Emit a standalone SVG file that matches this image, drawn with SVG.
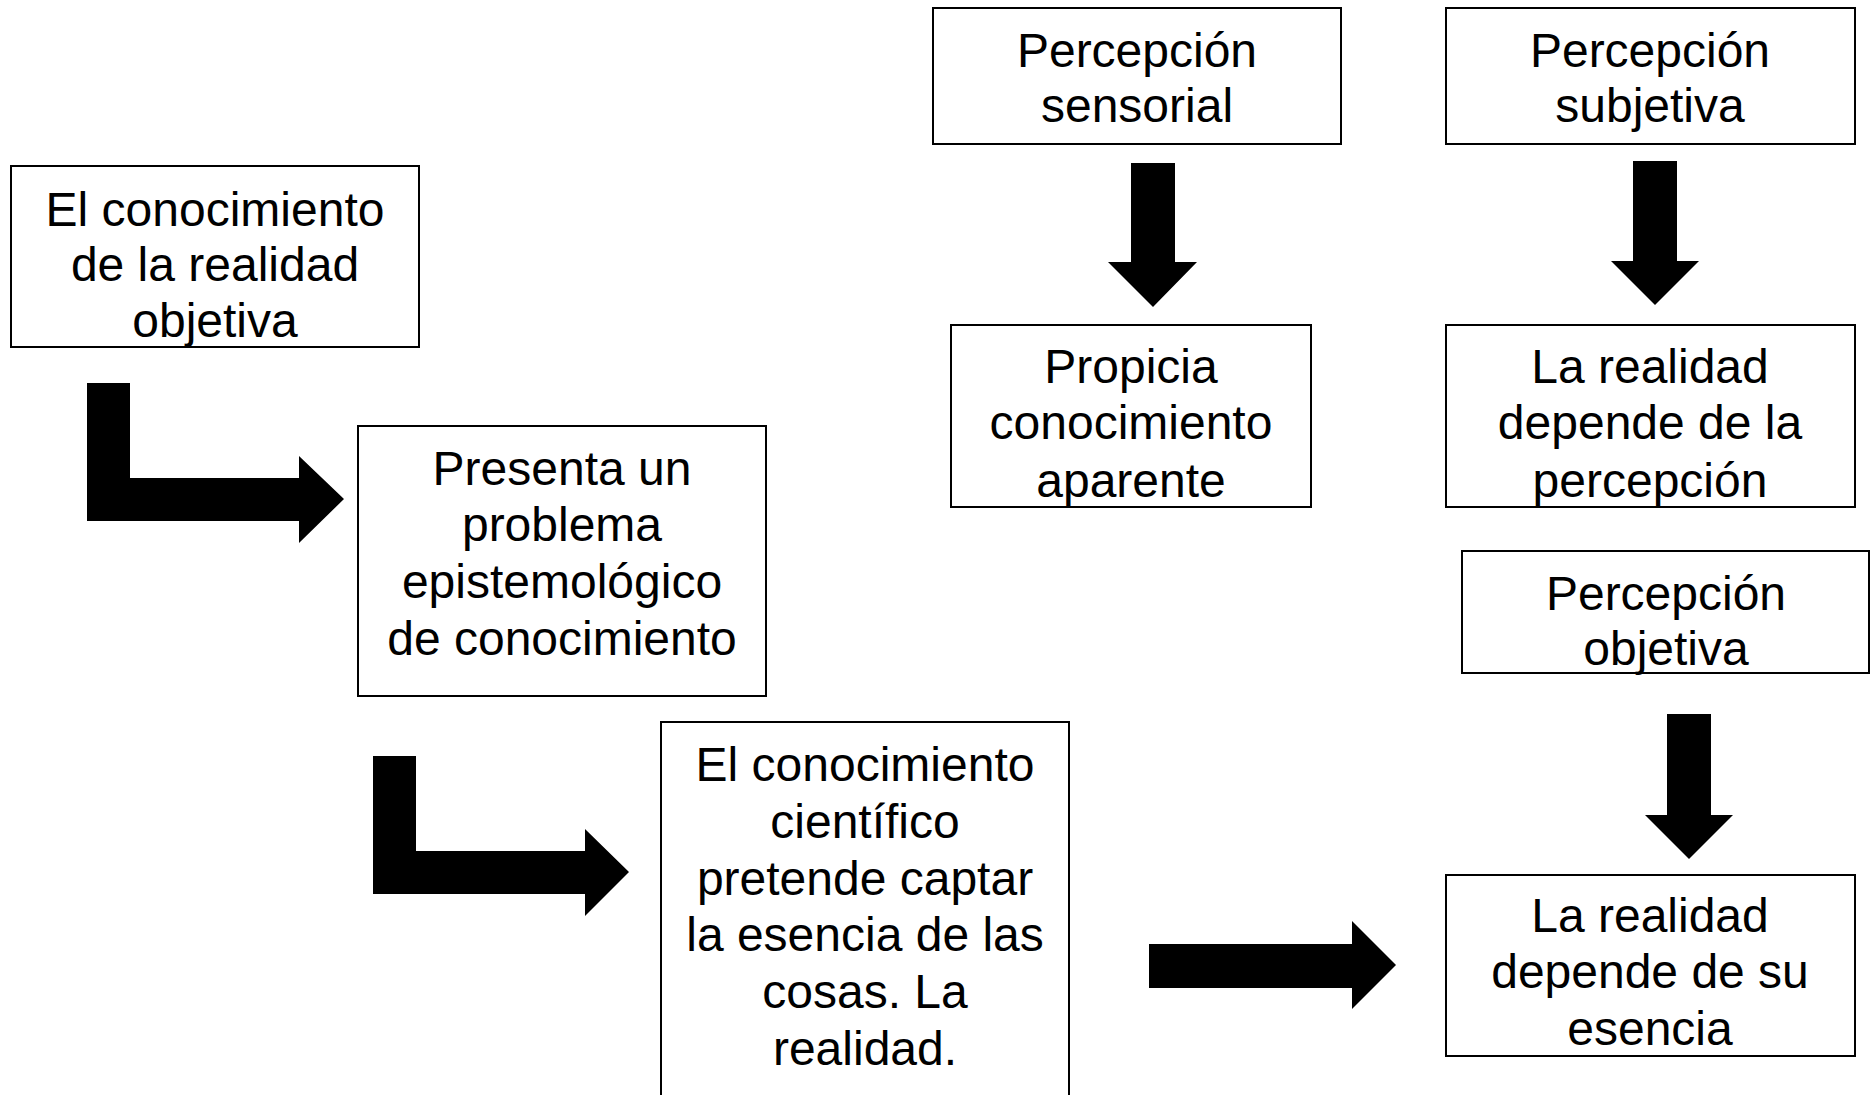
<svg xmlns="http://www.w3.org/2000/svg" width="1871" height="1095" viewBox="0 0 1871 1095">
<style>
.box{fill:#fff;stroke:#000;stroke-width:2}
.t{font-family:"Liberation Sans",Arial,sans-serif;font-size:48px;fill:#000;text-anchor:middle}
.arr{fill:#000;stroke:none}
</style>
<rect width="1871" height="1095" fill="#fff"/>
<g id="connectors">
<path class="arr" d="M87,383 H130 V478 H299 V456 L344,499 L299,543 V521 H87 Z"/>
<path class="arr" d="M373,756 H416 V851 H585 V829 L629,872 L585,916 V894 H373 Z"/>
<path class="arr" d="M1149,944 H1352 V921 L1396,965 L1352,1009 V988 H1149 Z"/>
<path class="arr" d="M1131,163 H1175 V262 H1197 L1153,307 L1108,262 H1131 Z"/>
<path class="arr" d="M1633,161 H1677 V261 H1699 L1655,305 L1611,261 H1633 Z"/>
<path class="arr" d="M1667,714 H1711 V815 H1733 L1689,859 L1645,815 H1667 Z"/>
</g>
<g id="n1"><rect class="box" x="11" y="166" width="408" height="181"/>
<text class="t" x="215" y="226">El conocimiento</text><text class="t" x="215" y="281">de la realidad</text><text class="t" x="215" y="337">objetiva</text></g>
<g id="n2"><rect class="box" x="358" y="426" width="408" height="270"/>
<text class="t" x="562" y="485">Presenta un</text><text class="t" x="562" y="541">problema</text><text class="t" x="562" y="598">epistemológico</text><text class="t" x="562" y="655">de conocimiento</text></g>
<g id="n3"><rect class="box" x="661" y="722" width="408" height="400"/>
<text class="t" x="865" y="781">El conocimiento</text><text class="t" x="865" y="838">científico</text><text class="t" x="865" y="895">pretende captar</text><text class="t" x="865" y="951">la esencia de las</text><text class="t" x="865" y="1008">cosas. La</text><text class="t" x="865" y="1065">realidad.</text></g>
<g id="n4"><rect class="box" x="933" y="8" width="408" height="136"/>
<text class="t" x="1137" y="67">Percepción</text><text class="t" x="1137" y="122">sensorial</text></g>
<g id="n5"><rect class="box" x="1446" y="8" width="409" height="136"/>
<text class="t" x="1650" y="67">Percepción</text><text class="t" x="1650" y="122">subjetiva</text></g>
<g id="n6"><rect class="box" x="951" y="325" width="360" height="182"/>
<text class="t" x="1131" y="383">Propicia</text><text class="t" x="1131" y="439">conocimiento</text><text class="t" x="1131" y="497">aparente</text></g>
<g id="n7"><rect class="box" x="1446" y="325" width="409" height="182"/>
<text class="t" x="1650" y="383">La realidad</text><text class="t" x="1650" y="439">depende de la</text><text class="t" x="1650" y="497">percepción</text></g>
<g id="n8"><rect class="box" x="1462" y="551" width="407" height="122"/>
<text class="t" x="1666" y="610">Percepción</text><text class="t" x="1666" y="665">objetiva</text></g>
<g id="n9"><rect class="box" x="1446" y="875" width="409" height="181"/>
<text class="t" x="1650" y="932">La realidad</text><text class="t" x="1650" y="988">depende de su</text><text class="t" x="1650" y="1045">esencia</text></g>
</svg>
